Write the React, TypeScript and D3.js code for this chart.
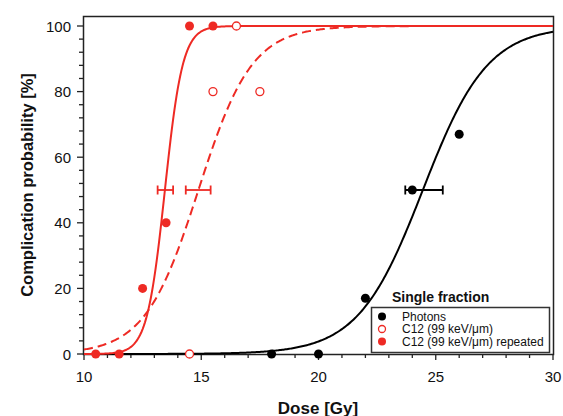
import React, { useEffect, useRef } from 'react';
import * as d3 from 'd3';

// measured points
const photons = [
  { dose: 18, p: 0 },
  { dose: 20, p: 0 },
  { dose: 22, p: 17 },
  { dose: 24, p: 50 },
  { dose: 26, p: 67 },
];
const c12 = [
  { dose: 14.5, p: 0 },
  { dose: 15.5, p: 80 },
  { dose: 16.5, p: 100 },
  { dose: 17.5, p: 80 },
];
const c12Repeated = [
  { dose: 10.5, p: 0 },
  { dose: 11.5, p: 0 },
  { dose: 12.5, p: 20 },
  { dose: 13.5, p: 40 },
  { dose: 14.5, p: 100 },
  { dose: 15.5, p: 100 },
];

// fitted dose-response curves (logistic: d50, width)
const fits = [
  { name: 'photons', d50: 24.45, s: 1.38, color: '#000000', dash: null },
  { name: 'c12', d50: 14.88, s: 1.14, color: '#ee2a24', dash: '9,5' },
  { name: 'c12rep', d50: 13.45, s: 0.38, color: '#ee2a24', dash: null },
];

// D50 confidence intervals
const errBars = [
  { lo: 23.7, hi: 25.3, p: 50, color: '#000000' },
  { lo: 14.34, hi: 15.4, p: 50, color: '#ee2a24' },
  { lo: 13.14, hi: 13.8, p: 50, color: '#ee2a24' },
];

const xTicks = [10, 15, 20, 25, 30];
const yTicks = [0, 20, 40, 60, 80, 100];
const legendItems = ['Photons', 'C12 (99 keV/\u03bcm)', 'C12 (99 keV/\u03bcm) repeated'];

export default function App() {
  const ref = useRef<SVGSVGElement>(null);

  useEffect(() => {
    const svg = d3.select(ref.current);
    svg.selectAll('*').remove();
    const red = '#ee2a24';
    const font = '"Liberation Sans", Arial, sans-serif';

    const x = d3.scaleLinear().domain([10, 30]).range([84, 553]);
    const y = d3.scaleLinear().domain([0, 100]).range([354, 26]);

    // frame
    svg.append('rect')
      .attr('x', 83.5).attr('y', 16.5)
      .attr('width', 470).attr('height', 338)
      .attr('fill', 'none').attr('stroke', '#222').attr('stroke-width', 1.5);

    // x axis
    const xAxis = svg.append('g').attr('transform', 'translate(0,354)');
    xAxis.selectAll('line.minor')
      .data(d3.range(10, 31, 1))
      .enter().append('line')
      .attr('x1', d => x(d)).attr('x2', d => x(d))
      .attr('y1', 0).attr('y2', d => (d % 5 === 0 ? 6 : 4))
      .attr('stroke', '#222').attr('stroke-width', 1.3);
    xAxis.selectAll('text')
      .data(xTicks)
      .enter().append('text')
      .attr('x', d => x(d)).attr('y', 28)
      .attr('text-anchor', 'middle')
      .attr('font-family', font).attr('font-size', 15)
      .attr('fill', '#111')
      .text(d => d);

    // y axis
    const yAxis = svg.append('g').attr('transform', 'translate(83,0)');
    yAxis.selectAll('line')
      .data(d3.range(0, 101, 4))
      .enter().append('line')
      .attr('y1', d => y(d)).attr('y2', d => y(d))
      .attr('x1', 0).attr('x2', d => (d % 20 === 0 ? -6 : -4))
      .attr('stroke', '#222').attr('stroke-width', 1.3);
    yAxis.selectAll('text')
      .data(yTicks)
      .enter().append('text')
      .attr('x', -12).attr('y', d => y(d) + 5.5)
      .attr('text-anchor', 'end')
      .attr('font-family', font).attr('font-size', 15)
      .attr('fill', '#111')
      .text(d => d);

    // axis titles
    svg.append('text')
      .attr('x', 318).attr('y', 414)
      .attr('text-anchor', 'middle')
      .attr('font-family', font).attr('font-size', 17).attr('font-weight', 'bold')
      .attr('fill', '#111')
      .text('Dose [Gy]');
    svg.append('text')
      .attr('transform', 'translate(33,185) rotate(-90)')
      .attr('text-anchor', 'middle')
      .attr('font-family', font).attr('font-size', 16.5).attr('font-weight', 'bold')
      .attr('fill', '#111')
      .text('Complication probability [%]');

    // curves
    const plot = svg.append('g');
    const doses = d3.range(10, 30.001, 0.05);
    const line = d3.line<number[]>().x(d => x(d[0])).y(d => y(d[1]));
    fits.forEach(f => {
      const pts = doses.map(d => [d, 100 / (1 + Math.exp(-(d - f.d50) / f.s))]);
      plot.append('path')
        .attr('d', line(pts))
        .attr('fill', 'none')
        .attr('stroke', f.color)
        .attr('stroke-width', 2)
        .attr('stroke-dasharray', f.dash);
    });

    // error bars
    errBars.forEach(e => {
      const g = plot.append('g').attr('stroke', e.color).attr('stroke-width', 1.8);
      g.append('line').attr('x1', x(e.lo)).attr('x2', x(e.hi)).attr('y1', y(e.p)).attr('y2', y(e.p));
      [e.lo, e.hi].forEach(v => {
        g.append('line').attr('x1', x(v)).attr('x2', x(v)).attr('y1', y(e.p) - 4.5).attr('y2', y(e.p) + 4.5);
      });
    });

    // points
    plot.selectAll('circle.ph')
      .data(photons).enter().append('circle')
      .attr('cx', d => x(d.dose)).attr('cy', d => y(d.p)).attr('r', 4.5)
      .attr('fill', '#000');
    plot.selectAll('circle.c12')
      .data(c12).enter().append('circle')
      .attr('cx', d => x(d.dose)).attr('cy', d => y(d.p)).attr('r', 4)
      .attr('fill', '#fff').attr('stroke', red).attr('stroke-width', 1.3);
    plot.selectAll('circle.rep')
      .data(c12Repeated).enter().append('circle')
      .attr('cx', d => x(d.dose)).attr('cy', d => y(d.p)).attr('r', 4.5)
      .attr('fill', red);

    // legend
    svg.append('text')
      .attr('x', 392).attr('y', 302)
      .attr('font-family', font).attr('font-size', 14).attr('font-weight', 'bold')
      .attr('fill', '#111')
      .text('Single fraction');
    const lg = svg.append('g');
    lg.append('rect')
      .attr('x', 371.5).attr('y', 307.5).attr('width', 178).attr('height', 45)
      .attr('fill', '#fff').attr('stroke', '#333').attr('stroke-width', 1.5);
    legendItems.forEach((t, i) => {
      const cy = 316.5 + i * 12.5;
      const c = lg.append('circle').attr('cx', 382).attr('cy', cy).attr('r', i === 1 ? 3.5 : 4);
      if (i === 0) c.attr('fill', '#000');
      else if (i === 1) c.attr('fill', '#fff').attr('stroke', red).attr('stroke-width', 1.3);
      else c.attr('fill', red);
      lg.append('text')
        .attr('x', 402).attr('y', cy + 4)
        .attr('font-family', font).attr('font-size', 12)
        .attr('fill', '#111')
        .text(t);
    });
  }, []);

  return (
    <div>
      <svg ref={ref} width={563} height={416} style={{ position: 'absolute', left: 0, top: 0, background: '#fff' }} />
    </div>
  );
}
